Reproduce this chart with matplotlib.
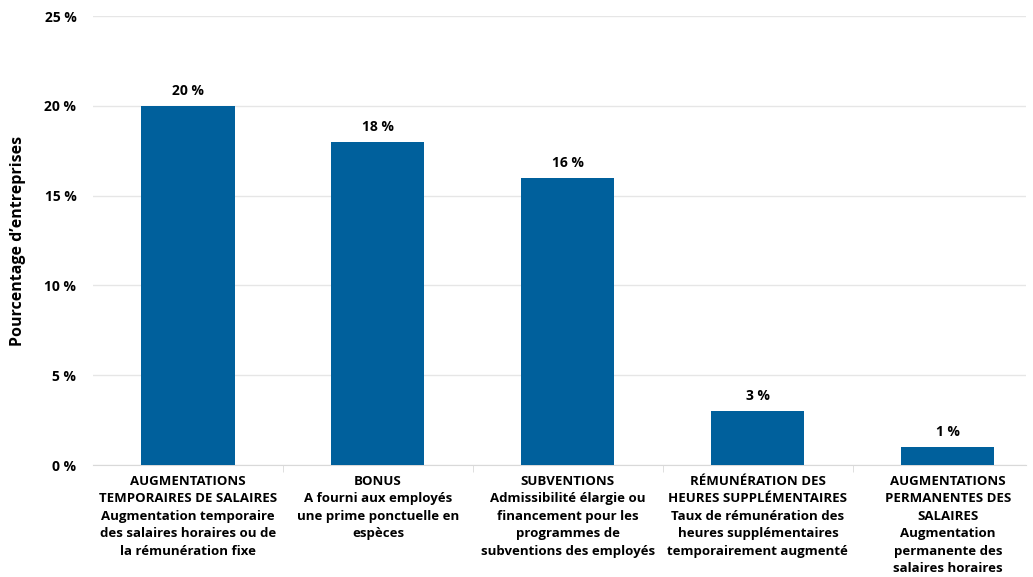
import matplotlib.pyplot as plt

plt.rcParams['font.family'] = ['Open Sans', 'DejaVu Sans']
plt.rcParams['font.weight'] = 'bold'

# données
categories = [
    "AUGMENTATIONS\nTEMPORAIRES DE SALAIRES\nAugmentation temporaire\ndes salaires horaires ou de\nla rémunération fixe",
    "BONUS\nA fourni aux employés\nune prime ponctuelle en\nespèces",
    "SUBVENTIONS\nAdmissibilité élargie ou\nfinancement pour les\nprogrammes de\nsubventions des employés",
    "RÉMUNÉRATION DES\nHEURES SUPPLÉMENTAIRES\nTaux de rémunération des\nheures supplémentaires\ntemporairement augmenté",
    "AUGMENTATIONS\nPERMANENTES DES\nSALAIRES\nAugmentation\npermanente des\nsalaires horaires",
]
values = [20, 18, 16, 3, 1]
yticks = [0, 5, 10, 15, 20, 25]

fig = plt.figure(figsize=(10.33, 5.77), dpi=100)
ax = fig.add_axes([0.09, 0.194, 0.903, 0.778])

x = range(len(values))
ax.bar(x, values, width=0.49, color='#00609C', zorder=3)

for i, v in enumerate(values):
    ax.text(i, v + 0.45, f"{v} %", ha='center', va='bottom', fontsize=10, fontweight='bold')

ax.set_ylim(0, 25)
ax.set_xlim(-0.5, 4.41)
ax.set_yticks(yticks)
ax.set_yticklabels([f"{t} %" for t in yticks], fontsize=10, fontweight='bold')
ax.yaxis.grid(True, color='#e6e6e6', linewidth=1, zorder=0)
ax.tick_params(axis='y', length=0, pad=12)

# ticks aux limites des catégories
ax.set_xticks([i + 0.5 for i in range(len(values) - 1)], minor=True)
ax.set_xticks(list(x))
ax.set_xticklabels(categories, fontsize=9.5, fontweight='bold', linespacing=1.45)
ax.tick_params(axis='x', which='major', length=0, pad=7)
ax.tick_params(axis='x', which='minor', length=5, color='#d9d9d9')

for s in ['top', 'right', 'left']:
    ax.spines[s].set_visible(False)
ax.spines['bottom'].set_color('#d9d9d9')

ax.set_ylabel("Pourcentage d’entreprises", fontsize=11.5, fontweight='bold')
ax.yaxis.set_label_coords(-0.072, 0.5)

plt.savefig('out.png', dpi=100)
